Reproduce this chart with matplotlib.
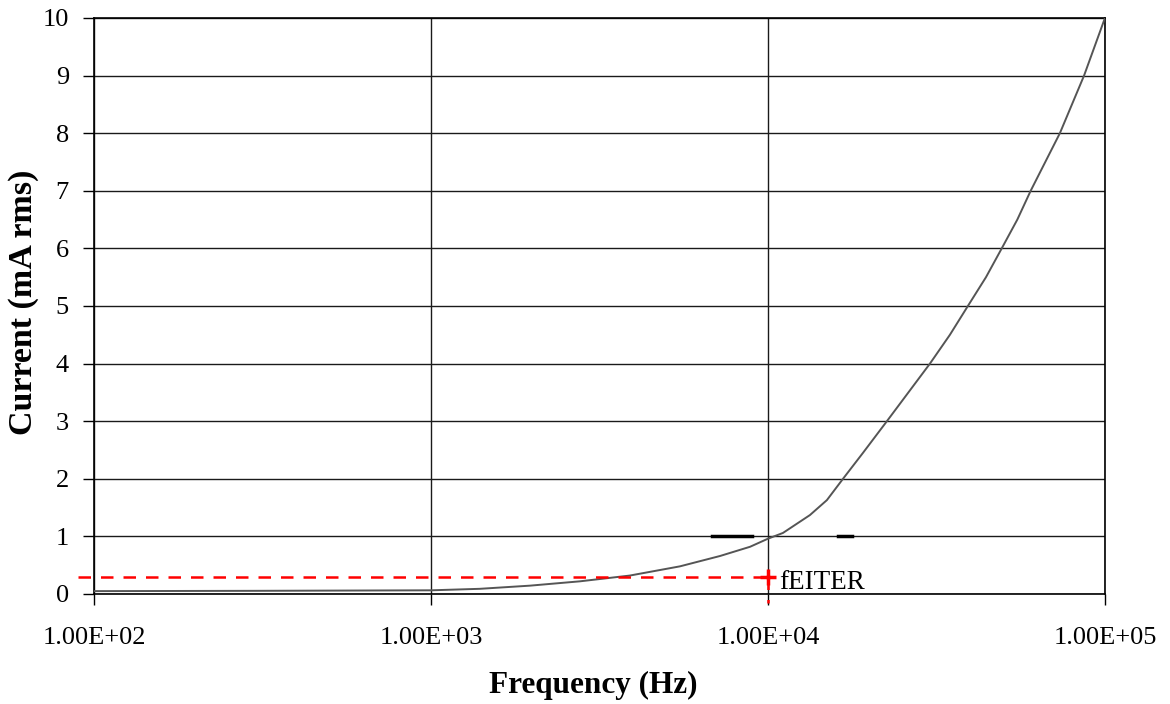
import numpy as np
import matplotlib.pyplot as plt
from matplotlib.ticker import FixedLocator, FuncFormatter, NullLocator

plt.rcParams['font.family'] = ['Liberation Serif', 'DejaVu Serif']

# current vs frequency
freq = [100, 300, 1000, 1396, 1968, 2767, 3890, 5480, 7210, 8850, 10000,
        11080, 13320, 14960, 16700, 19140, 22540, 30250, 34670, 39200,
        44360, 49400, 54950, 60200, 73500, 86700, 100000]
current = [0.05, 0.055, 0.064, 0.09, 0.145, 0.22, 0.32, 0.48, 0.66, 0.82, 0.96,
           1.06, 1.37, 1.63, 2.0, 2.45, 3.0, 4.0, 4.5, 5.0,
           5.5, 6.0, 6.5, 7.0, 8.0, 9.0, 10.0]

# short dark marks on the 1 mA line
marks = [(6820, 8970), (16140, 17800)]
mark_level = 1.0

f_eiter = 10000
i_eiter = 0.3

fig = plt.figure(figsize=(11.7, 7.04), dpi=100)
ax = fig.add_axes([0.0803, 0.15625, 0.8641, 0.8182])

ax.set_xscale('log')
ax.set_xlim(100, 100000)
ax.set_ylim(0, 10)

ax.grid(True, which='major', color='#1a1a1a', lw=1.0)
ax.set_axisbelow(True)

ax.plot(freq, current, color='#555555', lw=1.4, zorder=3)

for a, b in marks:
    ax.plot([a, b], [mark_level, mark_level], color='black', lw=2.5, zorder=3)

ax.plot([89.6, f_eiter], [i_eiter, i_eiter], color='red', ls=(0, (5, 4)),
        lw=1.8, clip_on=False, zorder=4)
ax.plot([f_eiter, f_eiter], [i_eiter, -0.16], color='red', ls=(0, (5, 4)),
        lw=1.8, clip_on=False, zorder=4)
ax.plot([f_eiter], [i_eiter], marker='+', color='red', ms=12, mew=2.5, zorder=5)
ax.text(10780, 0.087, 'fEITER', fontsize=19.5, va='baseline', ha='left')

ax.xaxis.set_major_locator(FixedLocator([1e2, 1e3, 1e4, 1e5]))
ax.xaxis.set_minor_locator(NullLocator())
ax.xaxis.set_major_formatter(FuncFormatter(lambda v, p: '%.2E' % v))
ax.set_yticks(range(0, 11))

ax.tick_params(axis='both', direction='out', length=8, width=1, colors='black',
               labelsize=19)
ax.tick_params(axis='x', pad=16)
ax.tick_params(axis='y', pad=10)
for s in ax.spines.values():
    s.set_color('black')
    s.set_linewidth(1.2)

ax.set_xlabel('Frequency (Hz)', fontsize=22.5, fontweight='bold', va='top')
ax.set_ylabel('Current (mA rms)', fontsize=24.5, fontweight='bold')
ax.xaxis.set_label_coords(0.494, -0.134)
ax.yaxis.set_label_coords(-0.054, 0.506)

fig.savefig('out.png', dpi=100)
